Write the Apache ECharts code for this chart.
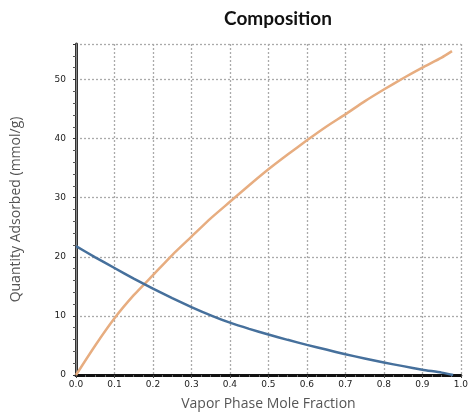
<!DOCTYPE html>
<html><head><meta charset="utf-8">
<script src="https://cdn.jsdelivr.net/npm/echarts@6/dist/echarts.min.js"></script>
<style>html,body{margin:0;padding:0;background:#fff}#c{width:471px;height:419px}</style>
</head><body><div id="c"></div>
<script>
const xOrange = [0, 0.05, 0.1, 0.15, 0.2, 0.25, 0.3, 0.35, 0.4, 0.45, 0.5, 0.55, 0.6, 0.65, 0.7, 0.75, 0.8, 0.85, 0.9, 0.95, 0.977];
const yOrange = [0, 5.0, 9.6, 13.5, 16.9, 20.3, 23.4, 26.5, 29.3, 32.1, 34.8, 37.3, 39.7, 42.0, 44.1, 46.3, 48.3, 50.2, 52.0, 53.7, 54.8];
const xBlue = [0, 0.05, 0.1, 0.15, 0.2, 0.25, 0.3, 0.35, 0.4, 0.45, 0.5, 0.55, 0.6, 0.65, 0.7, 0.75, 0.8, 0.85, 0.9, 0.95, 0.98];
const yBlue = [21.8, 19.9, 18.1, 16.3, 14.6, 13.0, 11.5, 10.1, 8.85, 7.8, 6.85, 5.95, 5.1, 4.3, 3.5, 2.8, 2.1, 1.5, 0.9, 0.4, 0];
const title = 'Composition';
const xName = 'Vapor Phase Mole Fraction';
const yName = 'Quantity Adsorbed (mmol/g)';

const chart = echarts.init(document.getElementById('c'));
const dotted = {show: true, lineStyle: {color: '#aaaaaa', type: [2, 2], width: 1.3}};
chart.setOption({
  animation: false,
  title: {text: title, left: 273, top: 4, textAlign: 'center',
    textStyle: {fontFamily: 'Lato', fontWeight: 'bold', fontSize: 19, color: '#111'}},
  grid: {left: 76, right: 9, top: 44, bottom: 44},
  xAxis: [{
    type: 'value', min: 0, max: 1, interval: 0.1,
    name: xName, nameLocation: 'middle', nameGap: 22,
    nameTextStyle: {fontFamily: 'Open Sans', fontSize: 14, color: '#555'},
    axisLine: {lineStyle: {color: '#444', width: 1.5}},
    axisTick: {show: true, length: 3, lineStyle: {color: '#444'}},
    minorTick: {show: true, splitNumber: 4, length: 2, lineStyle: {color: '#666'}},
    axisLabel: {fontFamily: 'DejaVu Sans', fontSize: 9, color: '#222', margin: 5,
      formatter: v => v.toFixed(1)},
    splitLine: dotted
  }, {
    type: 'value', min: 0, max: 1, position: 'top',
    axisLine: {show: true, lineStyle: {color: '#111', width: 3}},
    axisTick: {show: false}, axisLabel: {show: false}, splitLine: {show: false}
  }],
  yAxis: [{
    type: 'value', min: 0, max: 56, interval: 10,
    name: yName, nameLocation: 'middle', nameGap: 53,
    nameTextStyle: {fontFamily: 'Open Sans', fontSize: 14, color: '#555'},
    axisLine: {show: true, lineStyle: {color: '#333', width: 3}},
    axisTick: {show: true, length: 3, lineStyle: {color: '#333'}},
    minorTick: {show: true, splitNumber: 5, length: 3, lineStyle: {color: '#555'}},
    axisLabel: {fontFamily: 'DejaVu Sans', fontSize: 9, color: '#222', margin: 10,
      showMaxLabel: false},
    splitLine: dotted
  }, {
    type: 'value', min: 0, max: 56, position: 'right',
    axisLine: {show: true, lineStyle: {color: '#888', width: 1}},
    axisTick: {show: false}, axisLabel: {show: false}, splitLine: {show: false}
  }],
  series: [{
    type: 'line', smooth: 0.2, showSymbol: false,
    data: xOrange.map((x, i) => [x, yOrange[i]]),
    lineStyle: {color: '#e7ad80', width: 2.5}
  }, {
    type: 'line', smooth: 0.2, showSymbol: false,
    data: xBlue.map((x, i) => [x, yBlue[i]]),
    lineStyle: {color: '#46709c', width: 2.5}
  }]
});
</script></body></html>
